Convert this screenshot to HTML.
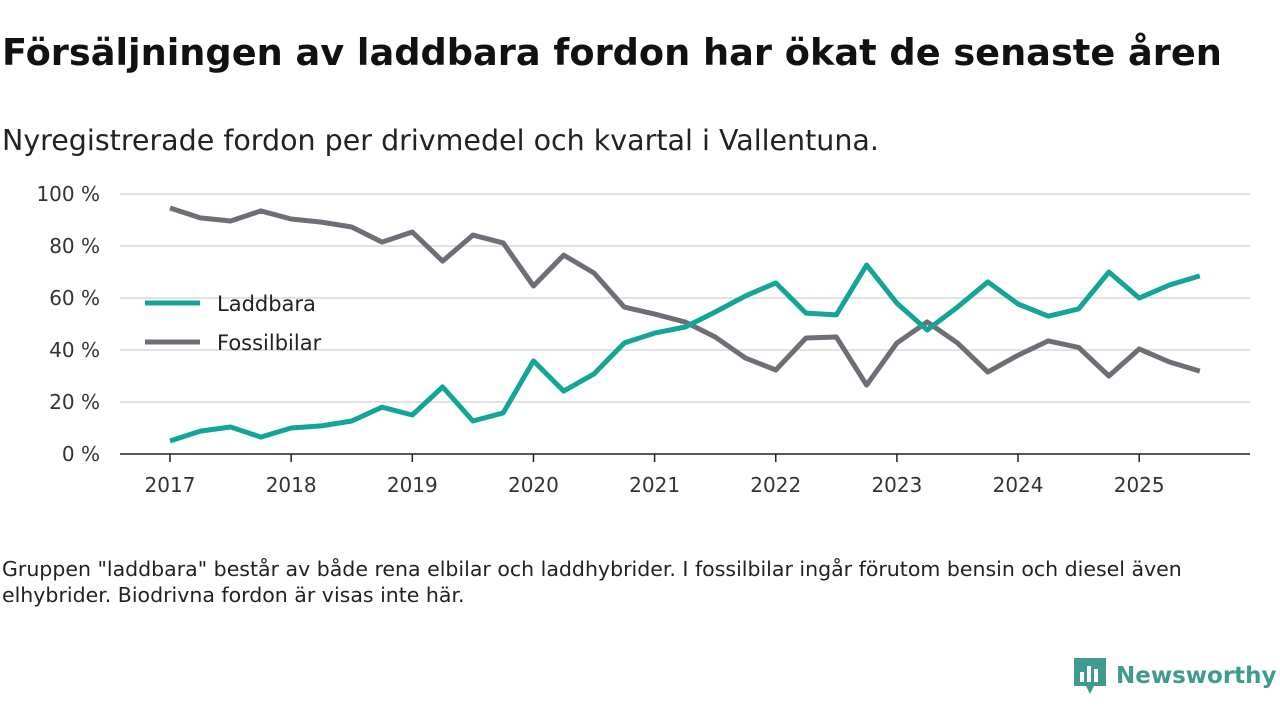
<!DOCTYPE html>
<html><head><meta charset="utf-8"><style>
body{margin:0;width:1280px;height:720px;background:#fff;font-family:"DejaVu Sans",sans-serif;color:#111;overflow:hidden;position:relative}
#title{position:absolute;left:2px;top:31px;font-size:36.7px;font-weight:bold;white-space:nowrap}
#sub{position:absolute;left:2px;top:124px;font-size:28.5px;color:#222;white-space:nowrap}
#note{position:absolute;left:2px;top:556px;font-size:20.5px;line-height:26px;color:#222;width:1215px}
#logo{position:absolute;left:1072px;top:656px;display:flex;align-items:center}
#logo span{font-size:23px;font-weight:bold;color:#3f9a8f;margin-left:8px}
svg{position:absolute;left:0;top:0}
</style></head><body>
<div id="title">Försäljningen av laddbara fordon har ökat de senaste åren</div>
<div id="sub">Nyregistrerade fordon per drivmedel och kvartal i Vallentuna.</div>
<svg id="chart" width="1280" height="540"></svg>
<div id="note">Gruppen "laddbara" består av både rena elbilar och laddhybrider. I fossilbilar ingår förutom bensin och diesel även elhybrider. Biodrivna fordon är visas inte här.</div>
<div id="logo">
<svg width="36" height="40" style="position:static" viewBox="0 0 36 40"><path d="M2 2h32v28H22l-4 8-4-8H2z" fill="#3f9a8f"/><rect x="8" y="16" width="4" height="10" fill="#fff"/><rect x="15" y="10" width="4" height="16" fill="#fff"/><rect x="22" y="13" width="4" height="13" fill="#fff"/></svg>
<span>Newsworthy</span></div>
<script>
const years=[2017,2018,2019,2020,2021,2022,2023,2024,2025];
const yTicks=[0,20,40,60,80,100];
const laddbara=[5,8.8,10.4,6.5,10,10.8,12.7,18,15,25.8,12.7,15.8,35.8,24.2,30.8,42.7,46.5,48.8,54.6,60.8,65.8,54.2,53.5,72.7,58,47.7,56.5,66.2,57.7,53,55.8,70,60,65,68.5];
const fossil=[94.6,90.8,89.6,93.5,90.4,89.2,87.3,81.5,85.4,74.2,84.2,81.2,64.6,76.5,69.6,56.5,53.8,50.8,45,36.9,32.3,44.6,45,26.5,42.7,50.8,42.7,31.5,38,43.5,41,30,40.4,35.4,31.9];
const NS="http://www.w3.org/2000/svg";
const svg=document.getElementById('chart');
const xS=t=>170+(t-2017)*121.15;
const yS=v=>454-v*2.6;
function mk(tag,a){const e=document.createElementNS(NS,tag);for(const k in a)e.setAttribute(k,a[k]);svg.appendChild(e);return e;}
yTicks.forEach(v=>{
 if(v>0){const g=mk('line',{x1:120,x2:1250,y1:yS(v),y2:yS(v),stroke:'#d9d9d9','stroke-width':1.5});
 
 }
 const t=mk('text',{x:100,y:yS(v)+7,'text-anchor':'end','font-size':20,fill:'#333','font-family':'DejaVu Sans'});
 t.textContent=v+' %';
 
 
});
const ax=mk('line',{x1:120,x2:1250,y1:454,y2:454,stroke:'#222','stroke-width':1.5});


years.forEach(y=>{
 const tk=mk('line',{x1:xS(y),x2:xS(y),y1:454,y2:462,stroke:'#222','stroke-width':1.5});
 
 
 const t=mk('text',{x:xS(y),y:492,'text-anchor':'middle','font-size':20,fill:'#333','font-family':'DejaVu Sans'});
 t.textContent=y;
 
 
});
function line(data,col,name){
 const d=data.map((v,i)=>(i?'L':'M')+xS(2017+i/4).toFixed(1)+' '+yS(v).toFixed(1)).join(' ');
 const p=mk('path',{d:d,fill:'none',stroke:col,'stroke-width':5,'stroke-linejoin':'round'});
 
 
}
line(fossil,'#6f6e76','fossilbilar-line');
line(laddbara,'#13a596','laddbara-line');
[['Laddbara','#13a596',303],['Fossilbilar','#6f6e76',342]].forEach(([n,c,y])=>{
 const l=mk('line',{x1:145,x2:200,y1:y,y2:y,stroke:c,'stroke-width':5});
 
 
 const t=mk('text',{x:217,y:y+8,'font-size':21,fill:'#222','font-family':'DejaVu Sans'});
 t.textContent=n;
 
 
});
</script>
</body></html>
